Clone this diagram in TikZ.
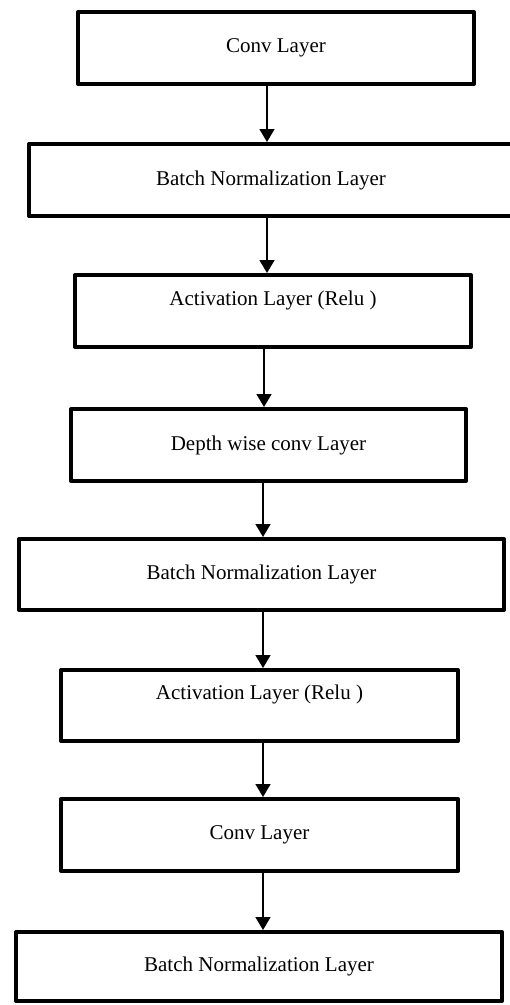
\documentclass[tikz,border=0pt]{standalone}
\usepackage{fontspec}
\setmainfont{Liberation Serif}
\usetikzlibrary{arrows.meta}
\begin{document}
\begin{tikzpicture}[x=1pt,y=1pt,
  layerbox/.style={draw=black, line width=4pt, line join=round, rectangle, fill=white,
    inner sep=0pt, font=\fontsize{21}{25}\selectfont},
  flow/.style={draw=black, line width=1.5pt, -{Triangle[width=15pt,length=13pt]}}]
\useasboundingbox (0,0) rectangle (510,-1005);
\node[layerbox, minimum width=396pt, minimum height=72pt] (b1) at (276,-48) {Conv Layer};
\node[layerbox, minimum width=484pt, minimum height=72pt] (b2) at (271,-180) {Batch Normalization Layer};
\node[layerbox, minimum width=396pt, minimum height=72pt,
  label={[name=t3, yshift=11pt, font=\fontsize{21}{25}\selectfont]center:Activation Layer (Relu )}] (b3) at (273,-311) {};
\node[layerbox, minimum width=395pt, minimum height=72pt] (b4) at (268.5,-445) {Depth wise conv Layer};
\node[layerbox, minimum width=485pt, minimum height=71pt] (b5) at (261.5,-574.5) {Batch Normalization Layer};
\node[layerbox, minimum width=397pt, minimum height=71pt,
  label={[name=t6, yshift=11.5pt, font=\fontsize{21}{25}\selectfont]center:Activation Layer (Relu )}] (b6) at (259.5,-705.5) {};
\node[layerbox, minimum width=397pt, minimum height=72pt] (b7) at (259.5,-835) {Conv Layer};
\node[layerbox, minimum width=486pt, minimum height=69pt] (b8) at (259,-966.5) {Batch Normalization Layer};
\draw[flow] (b1.south -| 267,0) -- (b2.north -| 267,0);
\draw[flow] (b2.south -| 267,0) -- (b3.north -| 267,0);
\draw[flow] (b3.south -| 264,0) -- (b4.north -| 264,0);
\draw[flow] (b4.south -| 263,0) -- (b5.north -| 263,0);
\draw[flow] (b5.south -| 263,0) -- (b6.north -| 263,0);
\draw[flow] (b6.south -| 263,0) -- (b7.north -| 263,0);
\draw[flow] (b7.south -| 263,0) -- (b8.north -| 263,0);
\end{tikzpicture}
\end{document}
